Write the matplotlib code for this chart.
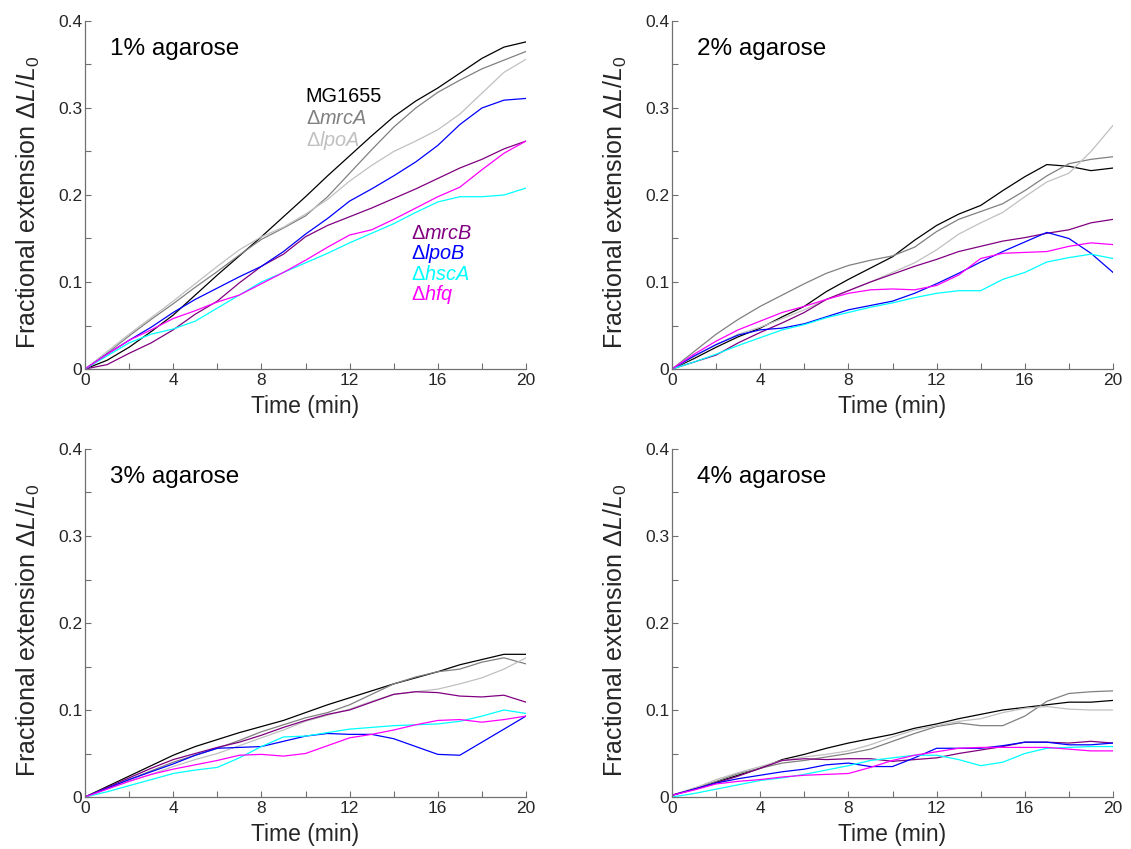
import numpy as np
import matplotlib
matplotlib.use("Agg")
import matplotlib.pyplot as plt
from matplotlib.ticker import MultipleLocator, FuncFormatter

plt.rcParams['font.family'] = ['Liberation Sans', 'DejaVu Sans']
plt.rcParams['mathtext.fontset'] = 'custom'
plt.rcParams['mathtext.rm'] = 'Liberation Sans'
plt.rcParams['mathtext.it'] = 'Liberation Sans:italic'

# Zeit in Minuten
t = np.arange(0, 21)

# 1% Agarose
wt1   = [0, 0.010, 0.025, 0.043, 0.062, 0.085, 0.108, 0.130, 0.152, 0.175, 0.198, 0.222, 0.245, 0.268, 0.290, 0.308, 0.323, 0.340, 0.357, 0.370, 0.376]
mrcA1 = [0, 0.018, 0.038, 0.057, 0.075, 0.094, 0.112, 0.131, 0.149, 0.162, 0.176, 0.198, 0.225, 0.252, 0.278, 0.300, 0.318, 0.332, 0.345, 0.355, 0.365]
lpoA1 = [0, 0.020, 0.040, 0.059, 0.078, 0.098, 0.118, 0.137, 0.152, 0.163, 0.178, 0.195, 0.216, 0.234, 0.250, 0.262, 0.275, 0.293, 0.317, 0.341, 0.356]
mrcB1 = [0, 0.005, 0.018, 0.030, 0.045, 0.063, 0.078, 0.099, 0.118, 0.132, 0.152, 0.165, 0.175, 0.185, 0.196, 0.207, 0.219, 0.231, 0.241, 0.253, 0.262]
lpoB1 = [0, 0.017, 0.033, 0.048, 0.065, 0.080, 0.093, 0.106, 0.118, 0.135, 0.155, 0.173, 0.193, 0.207, 0.222, 0.238, 0.257, 0.281, 0.300, 0.309, 0.311]
hscA1 = [0, 0.015, 0.030, 0.040, 0.046, 0.055, 0.070, 0.085, 0.100, 0.111, 0.122, 0.133, 0.145, 0.156, 0.167, 0.180, 0.192, 0.198, 0.198, 0.200, 0.208]
hfq1  = [0, 0.017, 0.033, 0.045, 0.058, 0.067, 0.077, 0.085, 0.098, 0.111, 0.125, 0.140, 0.154, 0.160, 0.172, 0.185, 0.198, 0.209, 0.229, 0.248, 0.262]

# 2% Agarose
wt2   = [0, 0.012, 0.025, 0.037, 0.047, 0.060, 0.072, 0.089, 0.103, 0.116, 0.129, 0.148, 0.165, 0.178, 0.188, 0.205, 0.221, 0.235, 0.233, 0.228, 0.231]
mrcA2 = [0, 0.020, 0.040, 0.057, 0.072, 0.085, 0.098, 0.110, 0.119, 0.125, 0.130, 0.140, 0.158, 0.172, 0.181, 0.190, 0.205, 0.222, 0.236, 0.241, 0.244]
lpoA2 = [0, 0.014, 0.028, 0.040, 0.048, 0.058, 0.068, 0.080, 0.090, 0.100, 0.111, 0.122, 0.137, 0.155, 0.168, 0.180, 0.198, 0.215, 0.225, 0.250, 0.280]
mrcB2 = [0, 0.008, 0.016, 0.030, 0.042, 0.053, 0.065, 0.080, 0.090, 0.100, 0.109, 0.118, 0.126, 0.135, 0.141, 0.147, 0.151, 0.156, 0.160, 0.168, 0.172]
lpoB2 = [0, 0.015, 0.028, 0.039, 0.045, 0.047, 0.052, 0.060, 0.068, 0.073, 0.078, 0.087, 0.098, 0.110, 0.123, 0.135, 0.146, 0.157, 0.150, 0.133, 0.111]
hscA2 = [0, 0.008, 0.017, 0.027, 0.036, 0.045, 0.051, 0.059, 0.065, 0.071, 0.076, 0.082, 0.087, 0.090, 0.090, 0.103, 0.111, 0.123, 0.128, 0.132, 0.127]
hfq2  = [0, 0.017, 0.032, 0.045, 0.055, 0.065, 0.072, 0.080, 0.087, 0.091, 0.092, 0.091, 0.096, 0.108, 0.127, 0.133, 0.134, 0.135, 0.141, 0.145, 0.143]

# 3% Agarose
wt3   = [0, 0.012, 0.024, 0.036, 0.048, 0.058, 0.066, 0.074, 0.081, 0.088, 0.097, 0.106, 0.114, 0.122, 0.130, 0.137, 0.144, 0.152, 0.158, 0.164, 0.164]
mrcA3 = [0, 0.010, 0.020, 0.030, 0.040, 0.048, 0.056, 0.065, 0.075, 0.083, 0.091, 0.097, 0.106, 0.118, 0.130, 0.138, 0.144, 0.147, 0.155, 0.160, 0.153]
lpoA3 = [0, 0.009, 0.018, 0.026, 0.035, 0.043, 0.050, 0.059, 0.068, 0.077, 0.087, 0.094, 0.101, 0.110, 0.118, 0.121, 0.124, 0.130, 0.137, 0.147, 0.160]
mrcB3 = [0, 0.011, 0.022, 0.033, 0.043, 0.050, 0.057, 0.063, 0.071, 0.080, 0.088, 0.095, 0.100, 0.109, 0.118, 0.121, 0.120, 0.116, 0.115, 0.117, 0.109]
lpoB3 = [0, 0.010, 0.020, 0.029, 0.038, 0.048, 0.056, 0.057, 0.058, 0.064, 0.070, 0.073, 0.072, 0.072, 0.067, 0.058, 0.049, 0.048, 0.063, 0.078, 0.093]
hscA3 = [0, 0.006, 0.013, 0.020, 0.027, 0.031, 0.034, 0.045, 0.058, 0.069, 0.070, 0.074, 0.078, 0.080, 0.082, 0.083, 0.084, 0.087, 0.093, 0.100, 0.096]
hfq3  = [0, 0.009, 0.018, 0.026, 0.032, 0.037, 0.042, 0.048, 0.049, 0.047, 0.050, 0.059, 0.068, 0.072, 0.077, 0.083, 0.088, 0.089, 0.086, 0.089, 0.093]

# 4% Agarose
wt4   = [0.002, 0.009, 0.017, 0.025, 0.033, 0.043, 0.049, 0.056, 0.062, 0.067, 0.072, 0.079, 0.084, 0.090, 0.095, 0.100, 0.103, 0.106, 0.109, 0.109, 0.111]
mrcA4 = [0.002, 0.010, 0.018, 0.027, 0.033, 0.039, 0.042, 0.046, 0.050, 0.055, 0.064, 0.073, 0.081, 0.085, 0.082, 0.082, 0.093, 0.110, 0.119, 0.121, 0.122]
lpoA4 = [0.002, 0.010, 0.020, 0.028, 0.035, 0.042, 0.046, 0.049, 0.053, 0.060, 0.069, 0.077, 0.082, 0.087, 0.090, 0.097, 0.102, 0.104, 0.101, 0.100, 0.100]
mrcB4 = [0.002, 0.009, 0.016, 0.024, 0.033, 0.042, 0.044, 0.043, 0.044, 0.044, 0.041, 0.043, 0.045, 0.050, 0.054, 0.058, 0.063, 0.063, 0.062, 0.064, 0.062]
lpoB4 = [0.002, 0.009, 0.016, 0.021, 0.025, 0.029, 0.032, 0.037, 0.039, 0.035, 0.035, 0.045, 0.056, 0.056, 0.056, 0.059, 0.063, 0.063, 0.060, 0.060, 0.062]
hscA4 = [0, 0.004, 0.009, 0.014, 0.019, 0.022, 0.026, 0.031, 0.036, 0.042, 0.045, 0.048, 0.048, 0.043, 0.036, 0.040, 0.050, 0.056, 0.057, 0.058, 0.058]
hfq4  = [0.002, 0.008, 0.015, 0.018, 0.020, 0.023, 0.025, 0.026, 0.027, 0.034, 0.042, 0.048, 0.052, 0.056, 0.057, 0.057, 0.057, 0.057, 0.055, 0.053, 0.053]

panels = ['1% agarose', '2% agarose', '3% agarose', '4% agarose']
strains = ['MG1655', 'mrcA', 'lpoA', 'mrcB', 'lpoB', 'hscA', 'hfq']
colors = ['black', '#808080', '#c0c0c0', '#800080', '#0000ff', '#00ffff', '#ff00ff']
data = [[wt1, mrcA1, lpoA1, mrcB1, lpoB1, hscA1, hfq1],
        [wt2, mrcA2, lpoA2, mrcB2, lpoB2, hscA2, hfq2],
        [wt3, mrcA3, lpoA3, mrcB3, lpoB3, hscA3, hfq3],
        [wt4, mrcA4, lpoA4, mrcB4, lpoB4, hscA4, hfq4]]

# Achsenpositionen in Pixeln (links, unten)
W, H = 1131, 849
pos = [(85, 369), (672, 369), (85, 797), (672, 797)]

fig = plt.figure(figsize=(W/100, H/100), dpi=100)
axes = []
for i, (x0, y0) in enumerate(pos):
    ax = fig.add_axes([x0/W, (H-y0)/H, 441/W, 348/H])
    for y, c in zip(data[i], colors):
        ax.plot(t, y, color=c, lw=0.9)
    ax.set_xlim(0, 20)
    ax.set_ylim(0, 0.4)
    ax.xaxis.set_major_locator(MultipleLocator(4))
    ax.xaxis.set_minor_locator(MultipleLocator(2))
    ax.yaxis.set_major_locator(MultipleLocator(0.1))
    ax.yaxis.set_minor_locator(MultipleLocator(0.05))
    ax.yaxis.set_major_formatter(FuncFormatter(lambda v, p: '%g' % round(v, 2)))
    ax.tick_params(which='both', direction='in', length=4, width=0.8,
                   color='#707070', labelsize=12.5, labelcolor='#262626')
    ax.tick_params(axis='x', pad=3)
    ax.tick_params(axis='y', pad=2)
    for s in ['top', 'right']:
        ax.spines[s].set_visible(False)
    for s in ['left', 'bottom']:
        ax.spines[s].set_color('#707070')
        ax.spines[s].set_linewidth(0.9)
    ax.set_xlabel('Time (min)', fontsize=16.5, color='#262626', labelpad=5)
    ax.set_ylabel('Fractional extension Δ$L/L_0$', fontsize=18, color='#262626')
    ax.yaxis.set_label_coords(-0.098, 0.48)
    ax.text(0.057, 0.902, panels[i], transform=ax.transAxes, fontsize=17.5,
            color='black')
    axes.append(ax)

# Beschriftung der Staemme im ersten Panel
ax = axes[0]
ax.text(10.0, 0.3067, strains[0], color=colors[0], fontsize=14.3)
for k, yy in zip([1, 2], [0.2818, 0.2565]):
    ax.text(10.0, yy, 'Δ$' + strains[k] + '$', color=colors[k], fontsize=14.3)
for k, yy in zip([3, 4, 5, 6], [0.1497, 0.126, 0.1025, 0.0795]):
    ax.text(14.77, yy, 'Δ$' + strains[k] + '$', color=colors[k], fontsize=14.3)

plt.savefig("out.png", dpi=100)
